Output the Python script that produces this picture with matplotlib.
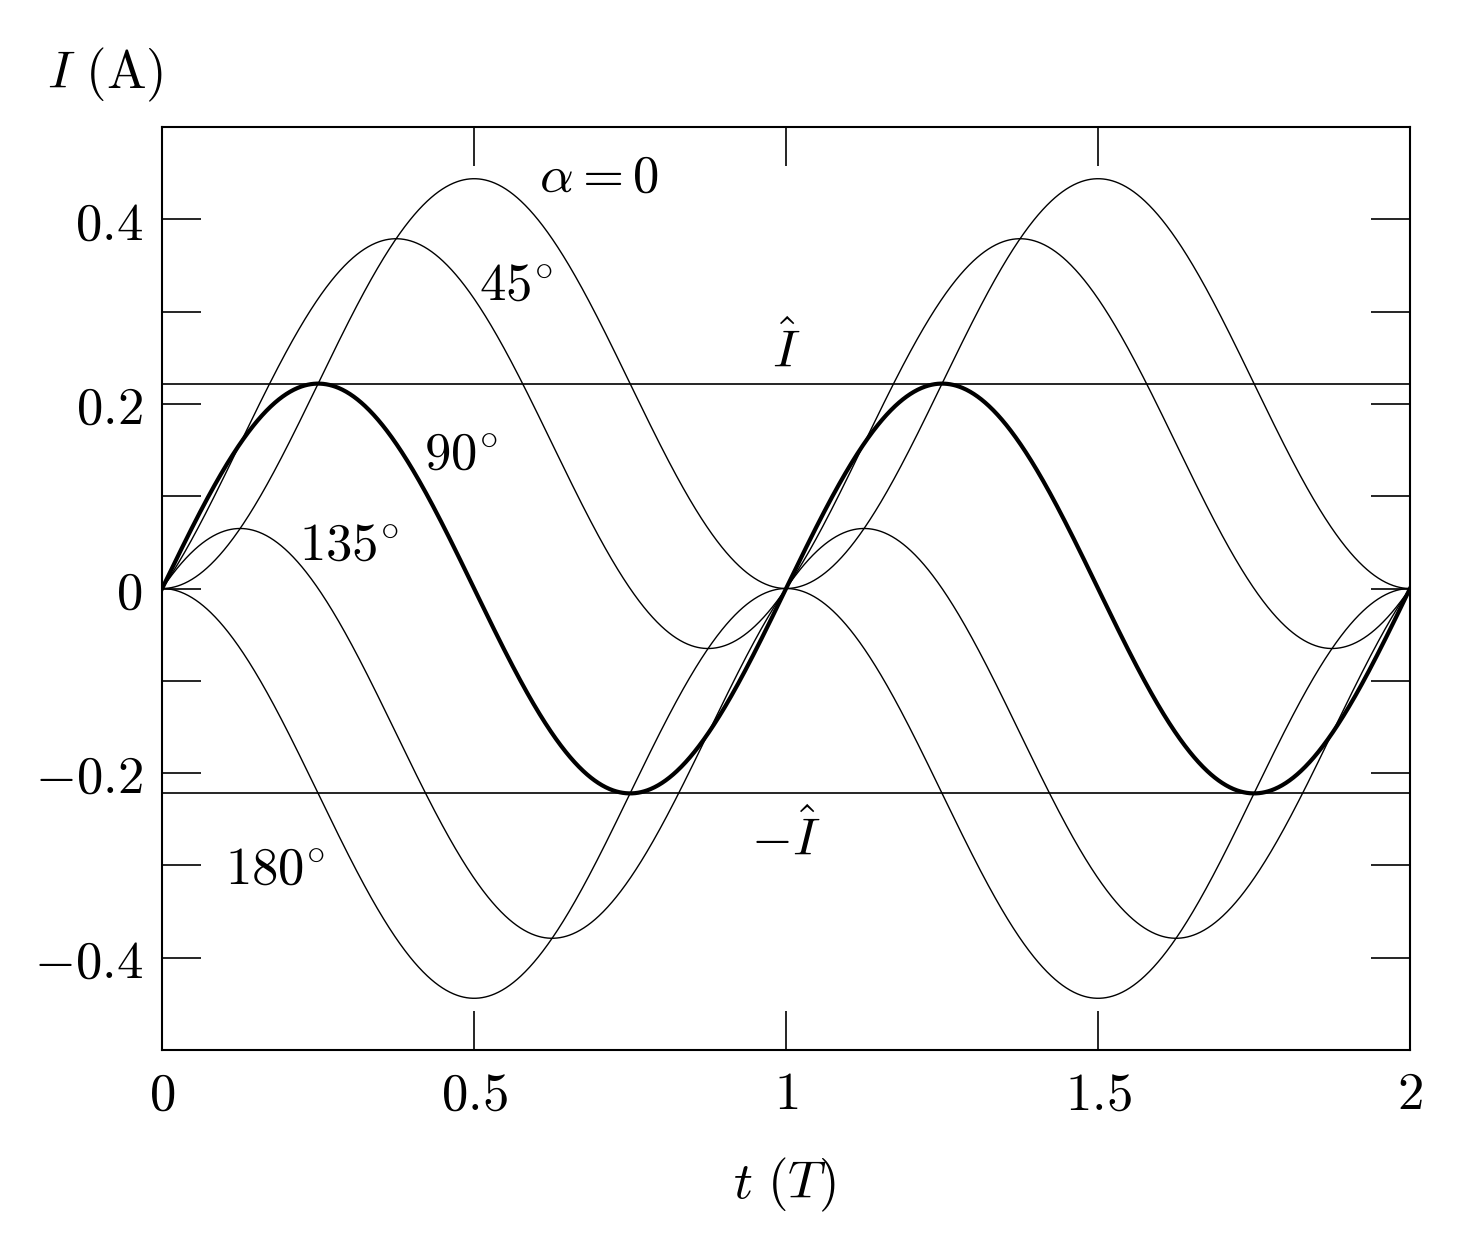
import numpy as np
import matplotlib
matplotlib.use("Agg")
import matplotlib.pyplot as plt

plt.rcParams['mathtext.fontset'] = 'cm'
plt.rcParams['font.family'] = 'serif'

I_hat = 0.222
alphas_deg = [0, 45, 90, 135, 180]
widths = [1.0, 1.0, 3.0, 1.0, 1.0]
xticks = [0, 0.5, 1, 1.5, 2]
xticklabels = [r'$0$', r'$0.5$', r'$1$', r'$1.5$', r'$2$']
yticks = [-0.4, -0.2, 0, 0.2, 0.4]
yticklabels = [r'$-0.4$', r'$-0.2$', r'$0$', r'$0.2$', r'$0.4$']
labels = [r'$\alpha = 0$', r'$45^{\circ}$', r'$90^{\circ}$', r'$135^{\circ}$', r'$180^{\circ}$']
label_pos = [(0.70, 0.446), (0.566, 0.328), (0.478, 0.144), (0.30, 0.046), (0.18, -0.305)]

fig = plt.figure(figsize=(14.74, 12.54), dpi=100)
ax = fig.add_axes([0.110, 0.1627, 0.8466, 0.736])
t = np.linspace(0, 2, 2001)
for a, lw in zip(alphas_deg, widths):
    ar = np.radians(a)
    I = I_hat * (np.cos(ar) * (1 - np.cos(2 * np.pi * t)) + np.sin(ar) * np.sin(2 * np.pi * t))
    ax.plot(t, I, color='black', lw=lw)
ax.axhline(I_hat, color='black', lw=1.2)
ax.axhline(-I_hat, color='black', lw=1.2)
fs = 38
for lab, (x, y) in zip(labels, label_pos):
    ax.text(x, y, lab, fontsize=fs, ha='center', va='center')
ax.text(1.0, 0.257, r'$\hat{I}$', fontsize=fs, ha='center', va='center')
ax.text(1.0, -0.272, r'$-\hat{I}$', fontsize=fs, ha='center', va='center')

ax.set_xlim(0, 2)
ax.set_ylim(-0.5, 0.5)
ax.set_xticks(xticks)
ax.set_xticklabels(xticklabels, fontsize=fs)
ax.set_yticks(yticks)
ax.set_yticklabels(yticklabels, fontsize=fs)
ax.set_yticks(np.arange(-0.5, 0.51, 0.1), minor=True)
ax.tick_params(which='both', direction='in', top=True, right=True, length=28, width=1.2, pad=14)
ax.tick_params(which='minor', length=28)
for s in ax.spines.values():
    s.set_linewidth(1.5)
fig.text(105 / 1474, 1 - 75 / 1254, r'$I\ (\mathrm{A})$', fontsize=fs, ha='center', va='center')
fig.text(785 / 1474, 1 - 1185 / 1254, r'$t\ (T)$', fontsize=fs, ha='center', va='center')
fig.savefig('out.png', dpi=100)
